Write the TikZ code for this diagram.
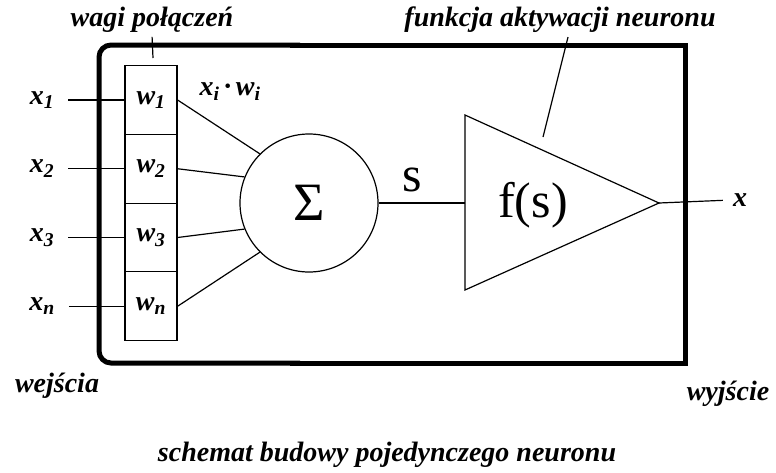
\documentclass[tikz,border=0pt]{standalone}
\usepackage{fontspec}
\setmainfont{Liberation Serif}
\usetikzlibrary{calc}
\tikzset{
  lbl/.style={font=\fontsize{28}{32}\selectfont\bfseries\itshape, inner sep=2pt},
  big/.style={font=\fontsize{50}{56}\selectfont, inner sep=0pt},
  wire/.style={line width=1.2pt},
  frame/.style={line width=5pt},
  wbox/.style={draw, wire, minimum width=52pt, minimum height=68.75pt, inner sep=0pt,
    font=\fontsize{28}{32}\selectfont\bfseries\itshape},
}
\begin{document}
\begin{tikzpicture}[x=1pt,y=-1pt]
\useasboundingbox (0,0) rectangle (776,472);
% ramka neuronu
\draw[frame, rounded corners=12pt] (300,45) -- (99,45) -- (99,363) -- (300,363);
\draw[frame] (290,45) -- (685,45) -- (685,363) -- (290,363);
% wejscia i wagi
\foreach \i/\y in {1/100,2/168.75,3/237.5,n/306.25} {
 \node[wbox] (w\i) at (151,\y) {w\textsubscript{\i}};
 \node[lbl] (x\i) at (42,\y) {x\textsubscript{\i}};
 \draw[wire, shorten <=12pt] (x\i) -- (w\i);
};
% sumator
\node[draw, circle, wire, minimum size=138pt, big, font=\fontsize{54}{60}\selectfont] (sum) at (309,203) {Σ};
\draw[wire] (w1.east) -- (sum.135);
\draw[wire] (w2.east) -- (sum.158);
\draw[wire] (w3.east) -- (sum.202);
\draw[wire] (wn.east) -- (sum.225);
\node[lbl] (xw) at (230,92) {x\textsubscript{i}\,·\,w\textsubscript{i}};
% funkcja aktywacji
\coordinate (tl) at (465,115);
\coordinate (bl) at (465,290);
\coordinate (apex) at (659,203);
\coordinate (tin) at (465,203);
\draw[wire] (tl) -- (apex) -- (bl) -- cycle;
\node[big] (fs) at (533,205) {f(s)};
\draw[wire] (sum.east) -- (tin);
\node[big] (s) at (412,180) {s};
% wyjscie
\node[lbl] (out) at (740,200) {x};
\draw[wire, shorten >=8pt] (apex) -- (out.west);
% opisy
\node[lbl] (wagi) at (152,20) {wagi połączeń};
\coordinate (wtick) at (153,58);
\draw[wire, shorten <=2pt] (wagi.south) -- (wtick);
\node[lbl] (akt) at (560,20) {funkcja aktywacji neuronu};
\coordinate (aktpt) at (543,137);
\draw[wire] ($(akt.south)+(8,2)$) -- (aktpt);
\node[lbl] (wej) at (57,386) {wejścia};
\node[lbl] (wyj) at (728,394) {wyjście};
\node[lbl] (tyt) at (387,455) {schemat budowy pojedynczego neuronu};
\end{tikzpicture}
\end{document}
